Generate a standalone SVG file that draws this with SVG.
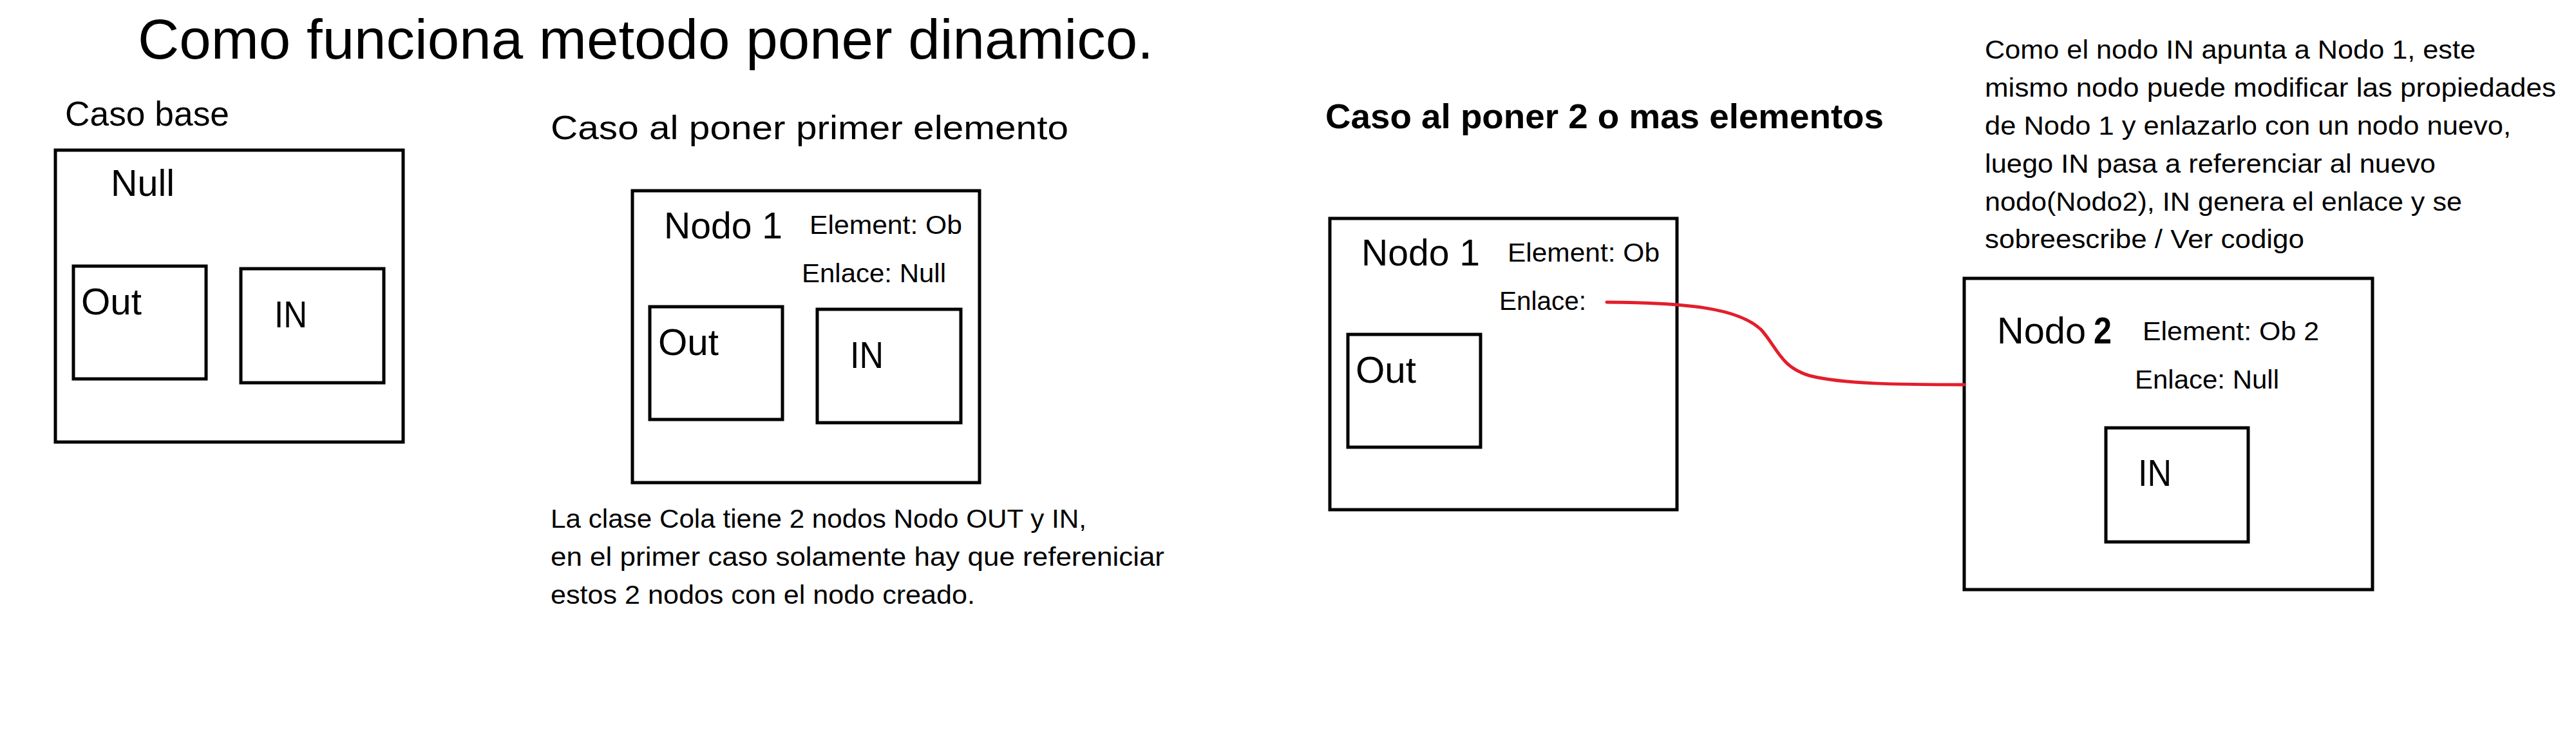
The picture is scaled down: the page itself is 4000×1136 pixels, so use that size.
<svg xmlns="http://www.w3.org/2000/svg" width="4000" height="1136" viewBox="0 0 4000 1136">
<style>
text{font-family:"Liberation Sans",Arial,sans-serif;fill:#000}
.box{fill:none;stroke:#000;stroke-width:5}
.t87{font-size:87px}
.t54{font-size:54px}
.t57{font-size:57px}
.t52{font-size:52px}
.t41{font-size:41px}
.tb{font-size:53px;font-weight:bold}
.link{fill:none;stroke:#e31e2b;stroke-width:5;stroke-linecap:round}
</style>
<rect width="4000" height="1136" fill="#fff"/>
<text class="t87" x="214" y="91" textLength="1577" lengthAdjust="spacingAndGlyphs">Como funciona metodo poner dinamico.</text>

<g id="caso-base">
<text class="t54" x="101" y="195" textLength="255" lengthAdjust="spacingAndGlyphs">Caso base</text>
<rect class="box" x="86" y="233" width="540" height="453"/>
<text class="t57" x="172" y="304" textLength="99" lengthAdjust="spacingAndGlyphs">Null</text>
<g id="base-out">
<rect class="box" x="114" y="413" width="206" height="175"/>
<text class="t57" x="126" y="488" textLength="94" lengthAdjust="spacingAndGlyphs">Out</text>
</g>
<g id="base-in">
<rect class="box" x="374" y="417" width="222" height="177"/>
<text class="t57" x="426" y="508" textLength="51" lengthAdjust="spacingAndGlyphs">IN</text>
</g>
</g>

<g id="caso-primer">
<text class="t52" x="855" y="216" textLength="804" lengthAdjust="spacingAndGlyphs">Caso al poner primer elemento</text>
<rect class="box" x="982" y="296" width="539" height="453"/>
<text class="t57" x="1031" y="370" textLength="184" lengthAdjust="spacingAndGlyphs">Nodo 1</text>
<text class="t41" x="1257" y="363" textLength="237" lengthAdjust="spacingAndGlyphs">Element: Ob</text>
<text class="t41" x="1245" y="438" textLength="224" lengthAdjust="spacingAndGlyphs">Enlace: Null</text>
<g id="primer-out">
<rect class="box" x="1009" y="476" width="206" height="175"/>
<text class="t57" x="1022" y="551" textLength="94" lengthAdjust="spacingAndGlyphs">Out</text>
</g>
<g id="primer-in">
<rect class="box" x="1269" y="480" width="223" height="176"/>
<text class="t57" x="1320" y="571" textLength="52" lengthAdjust="spacingAndGlyphs">IN</text>
</g>
<text class="t41" x="855" y="819" textLength="832" lengthAdjust="spacingAndGlyphs">La clase Cola tiene 2 nodos Nodo OUT y IN,</text>
<text class="t41" x="855" y="878" textLength="953" lengthAdjust="spacingAndGlyphs">en el primer caso solamente hay que refereniciar</text>
<text class="t41" x="855" y="937" textLength="659" lengthAdjust="spacingAndGlyphs">estos 2 nodos con el nodo creado.</text>
</g>

<g id="caso-dos">
<text class="tb" x="2058" y="199" textLength="867" lengthAdjust="spacingAndGlyphs">Caso al poner 2 o mas elementos</text>
</g>

<g id="nodo1">
<rect class="box" x="2065" y="339" width="539" height="452"/>
<text class="t57" x="2114" y="412" textLength="184" lengthAdjust="spacingAndGlyphs">Nodo 1</text>
<text class="t41" x="2341" y="406" textLength="236" lengthAdjust="spacingAndGlyphs">Element: Ob</text>
<text class="t41" x="2328" y="481" textLength="135" lengthAdjust="spacingAndGlyphs">Enlace:</text>
<g id="nodo1-out">
<rect class="box" x="2093" y="519" width="206" height="175"/>
<text class="t57" x="2105" y="594" textLength="94" lengthAdjust="spacingAndGlyphs">Out</text>
</g>
</g>

<g id="nota">
<text class="t41" x="3082" y="91" textLength="762" lengthAdjust="spacingAndGlyphs">Como el nodo IN apunta a Nodo 1, este</text>
<text class="t41" x="3082" y="150" textLength="887" lengthAdjust="spacingAndGlyphs">mismo nodo puede modificar las propiedades</text>
<text class="t41" x="3082" y="209" textLength="817" lengthAdjust="spacingAndGlyphs">de Nodo 1 y enlazarlo con un nodo nuevo,</text>
<text class="t41" x="3082" y="268" textLength="700" lengthAdjust="spacingAndGlyphs">luego IN pasa a referenciar al nuevo</text>
<text class="t41" x="3082" y="327" textLength="741" lengthAdjust="spacingAndGlyphs">nodo(Nodo2), IN genera el enlace y se</text>
<text class="t41" x="3082" y="385" textLength="496" lengthAdjust="spacingAndGlyphs">sobreescribe / Ver codigo</text>
</g>

<g id="nodo2">
<rect class="box" x="3050" y="432" width="634" height="483"/>
<text class="t57" x="3101" y="533" textLength="138" lengthAdjust="spacingAndGlyphs">Nodo</text>
<text class="t57" x="3251" y="533" font-weight="bold" textLength="28" lengthAdjust="spacingAndGlyphs">2</text>
<text class="t41" x="3327" y="528" textLength="274" lengthAdjust="spacingAndGlyphs">Element: Ob 2</text>
<text class="t41" x="3315" y="603" textLength="224" lengthAdjust="spacingAndGlyphs">Enlace: Null</text>
<g id="nodo2-in">
<rect class="box" x="3270" y="664" width="221" height="177"/>
<text class="t57" x="3320" y="754" textLength="52" lengthAdjust="spacingAndGlyphs">IN</text>
</g>
</g>

<g id="connectors">
<path class="link" d="M2495,469 C2620,470 2700,478 2735,512 C2760,540 2765,570 2810,583 C2860,596 2950,597 3050,597"/>
</g>
</svg>
